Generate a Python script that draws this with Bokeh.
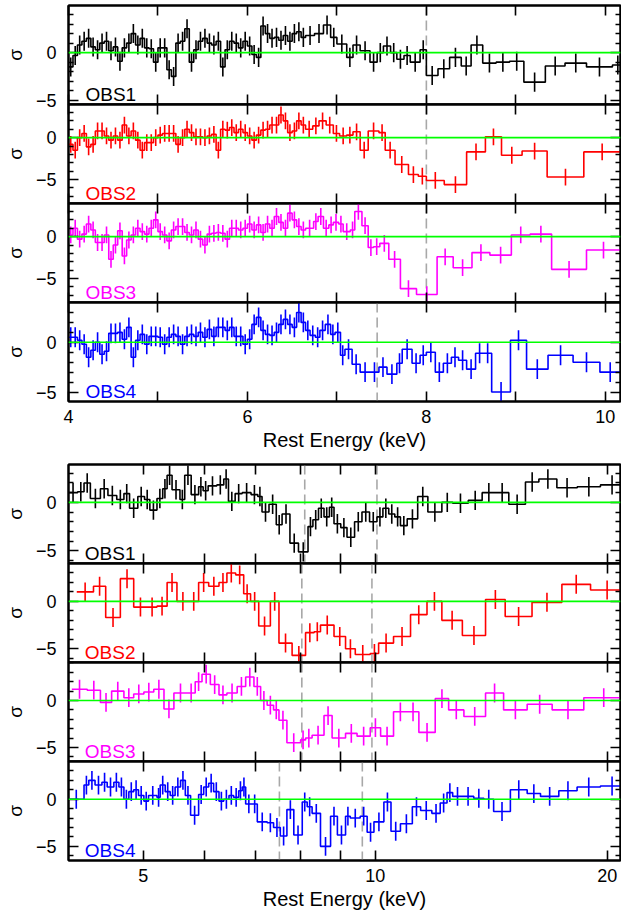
import numpy as np
from bokeh.plotting import figure
from bokeh.layouts import column
from bokeh.models import Range1d, LinearAxis, LogAxis, FixedTicker, Span
from bokeh.core.properties import value
from bokeh.embed import file_html
from bokeh.resources import INLINE

FONT = "Liberation Sans"
SERIES_COLORS = ["#000000", "#ff0000", "#ff00ff", "#0000ff"]
SERIES_NAMES = ["OBS1", "OBS2", "OBS3", "OBS4"]
SIGMA_ERR = 1.0  # residuals are in units of sigma

# ---------------- axis data ----------------
TOP_X_RANGE = (4.0, 10.17)
TOP_X_MAJOR = [4, 6, 8, 10]
TOP_X_MINOR = [5, 7, 9]
BOT_X_RANGE = (4.0, 20.8)
BOT_X_MAJOR = [5, 10, 20]
BOT_X_MINOR = [6, 7, 8, 9]
BOT_X_LABELS = {5: "5", 10: "10", 20: "20"}
Y_MAJOR = [-5, 0]
Y_MINOR = [-7, -6, -4, -3, -2, -1, 1, 2, 3, 4]
Y_LABELS = {-5: "\u22125", 0: "0"}
X_TITLE = "Rest Energy (keV)"
Y_TITLE = "\u03c3"

TOP_Y_RANGES = [(-5.45, 4.95), (-7.85, 3.95), (-7.85, 3.95), (-5.95, 4.0)]
BOT_Y_RANGES = [(-6.3, 3.9), (-6.45, 4.0), (-6.5, 4.05), (-6.5, 4.0)]

# where the OBS name sits (energy of its left edge)
TOP_NAME_X = 4.19
BOT_NAME_X = 4.2

# dashed line energies (keV)
TOP_MARKS = [[8.0], [8.0], [8.0], [7.45]]
BOT_MARKS = [[8.1, 10.05], [8.03, 9.9], [8.03, 9.9], [7.51, 9.62]]

# ---------------- top group (linear energy) ----------------
TOP_FINE_EDGES = [4.00, 4.05, 4.10, 4.15, 4.20, 4.25, 4.30, 4.35, 4.40, 4.45,
                  4.50, 4.55, 4.60, 4.65, 4.70, 4.75, 4.80, 4.85, 4.90, 4.95,
                  5.00, 5.05, 5.10, 5.15, 5.20, 5.25, 5.30, 5.35, 5.40, 5.45,
                  5.50, 5.55, 5.60, 5.65, 5.70, 5.75, 5.80, 5.85, 5.90, 5.95,
                  6.00, 6.05, 6.10, 6.15, 6.20, 6.25, 6.30, 6.35, 6.40, 6.45,
                  6.50, 6.55, 6.60, 6.65]

TOP1_FINE = [-1.5, -0.3, 0.8, 1.2, 1.5, 0.6, 0.3, 1.0, 1.2, 0.2,
             0.6, -0.9, 0.5, 1.0, 2.0, 0.8, 1.5, 0.5, 0.4, -1.0,
             0.5, 0.5, -1.8, -2.5, 1.0, 1.2, 2.5, -1.0, 0.3, 1.2,
             1.5, 1.0, 0.8, 1.2, -1.5, 0.3, 1.2, 1.0, 0.5, 1.2,
             0.7, -0.2, -0.5, 2.8, 2.0, 1.5, 1.6, 1.3, 1.8, 1.2,
             2.0, 2.2, 1.6]
TOP1_COARSE_EDGES = [6.65, 6.75, 6.85, 6.93, 7.00, 7.11, 7.18, 7.26, 7.37, 7.45,
                     7.52, 7.60, 7.67, 7.75, 7.82, 7.93, 8.00, 8.13, 8.26, 8.39,
                     8.50, 8.63, 8.78, 8.93, 9.09, 9.33, 9.55, 9.79, 10.08, 10.20]
TOP1_COARSE = [1.8, 2.0, 2.9, 1.6, 0.9, -0.5, 0.8, 0.2, -1.0, 0.0,
               0.7, 0.0, -0.7, -0.3, -1.0, 0.3, -2.4, -1.7, -0.5, -1.4,
               0.8, -1.1, -1.0, -0.9, -3.1, -1.4, -1.1, -1.5, -1.3]

TOP2_FINE = [-0.8, -1.5, 0.0, 0.5, -1.1, -0.8, 0.8, 0.8, 0.2, -0.3,
             0.2, -0.3, 1.5, 0.2, 0.8, -0.3, -1.5, -0.6, -0.6, 0.0,
             0.3, 0.5, 0.5, 0.5, -0.8, 0.0, 1.0, 0.6, 0.1, 0.1,
             0.0, 0.2, 0.4, -1.5, 1.0, 0.9, 1.2, 0.6, 1.0, 0.6,
             0.2, -0.3, 0.3, 0.9, 1.0, 1.5, 1.5, 2.7, 2.0, 0.6,
             0.8, 2.0, 1.5]
TOP2_COARSE_EDGES = [6.65, 6.73, 6.80, 6.88, 6.96, 7.03, 7.11, 7.18, 7.26, 7.35,
                     7.47, 7.54, 7.65, 7.80, 7.91, 8.00, 8.20, 8.45, 8.66, 8.84,
                     9.07, 9.35, 9.76, 10.17]
TOP2_COARSE = [1.0, 1.4, 2.0, 1.5, 0.5, 0.2, 0.3, 0.7, -1.5, 0.8,
               0.6, -1.5, -3.2, -4.4, -4.6, -5.1, -5.6, -1.7, 0.1, -2.1,
               -1.6, -4.7, -1.7]

TOP3_FINE = [0.2, 1.0, -0.3, 0.3, 1.5, 0.8, -0.7, -0.7, 0.2, -2.7,
             -1.0, 0.7, -2.3, -0.4, 0.2, 1.0, 0.6, 0.3, 1.0, 2.0,
             0.6, 0.2, -0.5, 0.8, 1.2, 1.2, 0.5, 0.2, 0.8, -0.3,
             -1.0, 0.3, 0.4, 0.5, 0.4, -0.3, 1.0, 1.0, 0.8, 1.0,
             1.5, 0.8, 1.4, 0.5, 1.5, 1.0, 2.4, 1.7, 1.0, 2.8,
             2.0, 1.2, 0.8]
TOP3_COARSE_EDGES = [6.65, 6.74, 6.79, 6.85, 6.91, 6.96, 7.02, 7.07, 7.15, 7.20,
                     7.28, 7.35, 7.41, 7.48, 7.58, 7.71, 7.89, 8.12, 8.30, 8.51,
                     8.71, 8.95, 9.16, 9.40, 9.79, 10.17]
TOP3_COARSE = [1.0, 1.8, 2.4, 1.0, 1.4, 1.7, 1.5, 0.6, 0.8, 3.0,
               1.3, -1.3, -1.2, -0.8, -2.7, -6.2, -6.9, -2.4, -3.7, -1.9,
               -2.2, 0.2, 0.3, -3.9, -1.6]

TOP4_FINE = [0.5, 0.5, 0.2, -0.2, -1.5, -0.8, 0.0, -1.2, -0.9, 0.9,
             0.9, 1.0, 0.3, 1.5, -1.5, 0.2, 0.8, -0.2, 0.6, 0.6,
             0.5, -0.2, 0.5, 0.8, 0.6, -0.2, 0.6, 0.8, 0.6, 1.0,
             0.5, 1.3, 0.6, 1.5, 1.5, 1.2, 1.5, 0.6, 0.6, -0.2,
             0.3, 1.8, 2.5, 1.2, 0.8, 0.7, 1.0, 1.8, 2.3, 1.8,
             1.5, 3.0, 2.0]
TOP4_COARSE_EDGES = [6.65, 6.70, 6.76, 6.81, 6.87, 6.93, 6.98, 7.04, 7.09, 7.17,
                     7.26, 7.37, 7.47, 7.56, 7.67, 7.73, 7.84, 7.93, 8.00, 8.10,
                     8.19, 8.28, 8.36, 8.45, 8.55, 8.64, 8.73, 8.94, 9.12, 9.36,
                     9.64, 9.94, 10.17]
TOP4_COARSE = [1.2, 0.7, 0.5, 1.2, 1.8, 0.8, 1.0, -1.3, -0.7, -2.2,
               -3.0, -3.0, -2.5, -3.2, -2.1, -0.7, -2.1, -1.3, -1.0, -3.0,
               -2.1, -1.5, -1.8, -2.7, -1.1, -1.1, -5.0, 0.2, -2.7, -1.3,
               -2.0, -3.0]

# ---------------- bottom group (log energy) ----------------
BOT1_EDGES = [4.00, 4.11, 4.19, 4.27, 4.40, 4.50, 4.62, 4.72, 4.80, 4.92,
              5.02, 5.10, 5.21, 5.30, 5.37, 5.45, 5.58, 5.66, 5.77, 5.90,
              5.98, 6.07, 6.23, 6.36, 6.45, 6.58, 6.72, 6.90, 7.04, 7.13,
              7.28, 7.44, 7.57, 7.75, 7.95, 8.18, 8.30, 8.44, 8.58, 8.72,
              8.84, 9.02, 9.19, 9.40, 9.61, 9.83, 10.05, 10.23, 10.41, 10.60,
              10.78, 11.00, 11.35, 11.70, 12.20, 12.60, 13.20, 13.76, 14.32, 14.90,
              15.66, 16.30, 17.20, 18.28, 19.59, 21.0]
BOT1_VALS = [1.0, 1.1, 2.0, 0.4, 1.4, 0.7, 0.3, 0.9, -0.6, 0.6,
             0.3, -0.8, 0.4, 1.4, 2.8, 1.3, 0.3, 2.8, 0.8, 1.6,
             1.2, 1.7, 1.8, 2.4, 0.1, 0.9, 1.0, 0.8, 0.6, -1.0,
             -0.2, -2.3, -1.2, -4.2, -5.1, -2.5, -1.8, -0.6, -1.5, -0.5,
             -2.2, -2.6, -3.6, -2.0, -1.0, -2.0, -1.5, -0.6, -1.2, -1.5,
             -2.4, -1.7, 0.6, -1.0, 0.0, -0.1, 0.2, 1.0, 1.0, -0.2,
             2.1, 2.4, 1.5, 1.6, 1.8]

BOT2_EDGES = [4.10, 4.31, 4.47, 4.67, 4.86, 5.06, 5.21, 5.37, 5.53, 5.73,
              5.90, 6.08, 6.27, 6.42, 6.59, 6.75, 6.89, 7.06, 7.31, 7.50,
              7.80, 8.12, 8.33, 8.49, 8.84, 9.15, 9.42, 9.85, 10.10, 10.56,
              11.11, 11.67, 12.20, 12.97, 13.90, 14.74, 15.97, 17.46, 19.02, 21.0]
BOT2_VALS = [1.0, 1.6, -1.7, 2.4, -0.6, -0.6, -0.5, 2.0, 0.0, 0.0,
             2.0, 1.6, 2.0, 3.0, 2.8, 0.8, 0.0, -2.6, 0.0, -4.4,
             -5.7, -3.3, -3.2, -2.5, -3.7, -5.0, -5.6, -5.5, -4.4, -3.7,
             -1.4, 0.0, -2.0, -3.6, 0.2, -1.6, -0.1, 1.8, 1.2]

BOT3_EDGES = [4.04, 4.23, 4.40, 4.55, 4.72, 4.86, 5.01, 5.16, 5.32, 5.48,
              5.70, 5.84, 5.96, 6.11, 6.27, 6.42, 6.62, 6.79, 6.96, 7.10,
              7.24, 7.38, 7.50, 7.68, 8.00, 8.12, 8.28, 8.58, 8.79, 9.15,
              9.47, 9.85, 10.16, 10.56, 11.00, 11.39, 11.96, 12.45, 13.03, 13.90,
              14.67, 15.74, 16.96, 18.64, 21.0]
BOT3_VALS = [1.2, 1.1, -0.2, 1.0, 0.3, 0.7, 0.9, 1.2, -0.9, 0.8,
             0.8, 2.0, 2.8, 1.7, 0.6, 0.8, 1.5, 2.5, 1.5, 0.0,
             -0.5, -1.0, -2.1, -4.5, -4.2, -4.0, -3.7, -1.6, -4.0, -3.5,
             -3.8, -2.9, -3.8, -1.2, -1.2, -3.4, 0.2, -1.0, -1.7, 0.8,
             -1.0, -0.4, -1.0, 0.3]

BOT4_EDGES = [4.00, 4.19, 4.25, 4.33, 4.42, 4.49, 4.58, 4.65, 4.72, 4.79,
              4.86, 4.93, 5.01, 5.08, 5.21, 5.26, 5.34, 5.42, 5.50, 5.59,
              5.67, 5.76, 5.90, 5.99, 6.08, 6.17, 6.27, 6.36, 6.46, 6.55,
              6.65, 6.72, 6.79, 6.92, 7.03, 7.24, 7.38, 7.53, 7.68, 7.84,
              8.04, 8.16, 8.28, 8.49, 8.75, 8.93, 9.15, 9.28, 9.56, 9.76,
              9.96, 10.26, 10.48, 10.78, 11.17, 11.45, 11.84, 12.14, 12.39, 12.60,
              12.97, 13.42, 13.83, 14.24, 14.97, 15.74, 16.38, 17.30, 18.27, 19.59,
              21.0]
BOT4_VALS = [0.0, 1.5, 2.0, 1.5, 1.8, 1.3, 1.8, 1.3, 0.0, 0.8,
             1.0, 0.4, -0.2, 0.4, 0.2, 1.5, 0.8, 0.4, 1.3, 2.0,
             0.4, -1.7, 0.5, 1.3, 1.7, 0.8, -0.2, 0.0, 0.4, 0.2,
             0.9, 1.3, -0.5, -0.5, -2.4, -2.5, -3.0, -3.9, -1.1, -3.8,
             -0.3, -0.8, -1.5, -5.0, -1.8, -3.8, -1.8, -2.0, -1.8, -3.5,
             -2.4, -0.3, -3.4, -2.6, -0.8, -1.2, -1.5, -0.4, 0.7, 0.3,
             0.3, 0.1, 0.0, -1.3, 1.0, 0.6, 0.3, 0.9, 1.3, 1.4]

TOP_SERIES = [
    (TOP_FINE_EDGES + TOP1_COARSE_EDGES[1:], TOP1_FINE + TOP1_COARSE),
    (TOP_FINE_EDGES + TOP2_COARSE_EDGES[1:], TOP2_FINE + TOP2_COARSE),
    (TOP_FINE_EDGES + TOP3_COARSE_EDGES[1:], TOP3_FINE + TOP3_COARSE),
    (TOP_FINE_EDGES + TOP4_COARSE_EDGES[1:], TOP4_FINE + TOP4_COARSE),
]
BOT_SERIES = [(BOT1_EDGES, BOT1_VALS), (BOT2_EDGES, BOT2_VALS),
              (BOT3_EDGES, BOT3_VALS), (BOT4_EDGES, BOT4_VALS)]

# ---------------- layout constants ----------------
FRAME_W = 552
FRAME_H = 99
BORDER_L = 68
BORDER_R = 1
PAD = 8            # spare border above/below inner panels (overlapped)
NAME_LIFT_PX = 10  # vertical centre of OBS name above the panel bottom
LW = 1.6


def hide_labels(ax):
    ax.major_label_text_color = None
    ax.major_label_standoff = 0


def style_common(ax):
    ax.axis_line_width = 2
    ax.axis_line_color = "black"
    ax.major_tick_out = 0
    ax.minor_tick_out = 0
    ax.major_tick_line_width = 1.6
    ax.minor_tick_line_width = 1.6
    ax.major_tick_line_color = "black"
    ax.minor_tick_line_color = "black"
    ax.major_label_text_font = FONT
    ax.major_label_text_font_size = "18px"
    ax.major_label_text_color = "black"


def style_x(ax, show):
    style_common(ax)
    ax.major_tick_in = 10
    ax.minor_tick_in = 10
    if show:
        ax.major_label_standoff = 8
        ax.axis_label = X_TITLE
        ax.axis_label_text_font = FONT
        ax.axis_label_text_font_size = "20px"
        ax.axis_label_text_font_style = "normal"
        ax.axis_label_text_color = "black"
        ax.axis_label_standoff = 3
    else:
        hide_labels(ax)


def style_y(ax, show):
    style_common(ax)
    ax.major_tick_in = 10
    ax.minor_tick_in = 5
    if show:
        ax.major_label_standoff = 12
        ax.major_label_overrides = Y_LABELS
        ax.axis_label = Y_TITLE
        ax.axis_label_text_font = FONT
        ax.axis_label_text_font_size = "19px"
        ax.axis_label_text_font_style = "normal"
        ax.axis_label_text_color = "black"
        ax.axis_label_standoff = 7
    else:
        hide_labels(ax)


def make_panel(xr, log, xmajor, xminor, yr, edges, vals, color, name, name_x, marks,
               top_border, bottom_border, show_xlabels, overlap):
    kw = {}
    if overlap:
        kw["styles"] = {"margin-top": "-%dpx" % (2 * PAD)}
    p = figure(output_backend="svg", toolbar_location=None,
               frame_width=FRAME_W, frame_height=FRAME_H,
               x_range=xr, y_range=Range1d(*yr),
               x_axis_type="log" if log else "linear",
               min_border_left=BORDER_L, min_border_right=BORDER_R,
               min_border_top=top_border, min_border_bottom=bottom_border,
               background_fill_color="white", border_fill_alpha=0,
               outline_line_color="black", outline_line_width=2, **kw)
    p.xgrid.visible = False
    p.ygrid.visible = False

    for m in marks:
        p.add_layout(Span(location=m, dimension="height", line_color="#a8a8a8",
                          line_width=1.6, line_dash="10 5", level="underlay"))

    # histogram steps from bin edges
    xs, ys = [], []
    for i, v in enumerate(vals):
        xs += [edges[i], edges[i + 1]]
        ys += [v, v]
    p.line(xs, ys, line_color=color, line_width=LW)

    lo = np.array(edges[:-1])
    hi = np.array(edges[1:])
    centers = np.sqrt(lo * hi) if log else 0.5 * (lo + hi)
    v = np.array(vals)
    p.segment(x0=centers, y0=v - SIGMA_ERR, x1=centers, y1=v + SIGMA_ERR,
              line_color=color, line_width=LW)

    p.add_layout(Span(location=0, dimension="width", line_color="#00ff00",
                      line_width=1.6))

    name_y = yr[0] + (yr[1] - yr[0]) * NAME_LIFT_PX / FRAME_H
    p.text(x=[name_x], y=[name_y], text=[name], text_font=value(FONT),
           text_font_size="19px", text_color=color,
           text_baseline="middle", text_align="left")

    yminor = [t for t in Y_MINOR if yr[0] < t < yr[1]]

    bx = p.xaxis[0]
    bx.ticker = FixedTicker(ticks=xmajor, minor_ticks=xminor)
    if log:
        bx.major_label_overrides = BOT_X_LABELS
    style_x(bx, show_xlabels)
    ax_cls = LogAxis if log else LinearAxis
    top_ax = ax_cls(ticker=FixedTicker(ticks=xmajor, minor_ticks=xminor))
    style_x(top_ax, False)
    p.add_layout(top_ax, "above")

    ly = p.yaxis[0]
    ly.ticker = FixedTicker(ticks=Y_MAJOR, minor_ticks=yminor)
    style_y(ly, True)
    ry = LinearAxis(ticker=FixedTicker(ticks=Y_MAJOR, minor_ticks=yminor))
    style_y(ry, False)
    p.add_layout(ry, "right")
    return p


panels = []
top_xr = Range1d(*TOP_X_RANGE)
for i in range(4):
    e, v = TOP_SERIES[i]
    tb = 5 if i == 0 else PAD
    bb = 62 if i == 3 else PAD
    panels.append(make_panel(top_xr, False, TOP_X_MAJOR, TOP_X_MINOR, TOP_Y_RANGES[i],
                             e, v, SERIES_COLORS[i], SERIES_NAMES[i], TOP_NAME_X,
                             TOP_MARKS[i], tb, bb, i == 3, i > 0))
bot_xr = Range1d(*BOT_X_RANGE)
for i in range(4):
    e, v = BOT_SERIES[i]
    tb = 1 if i == 0 else PAD
    bb = 52 if i == 3 else PAD
    panels.append(make_panel(bot_xr, True, BOT_X_MAJOR, BOT_X_MINOR, BOT_Y_RANGES[i],
                             e, v, SERIES_COLORS[i], SERIES_NAMES[i], BOT_NAME_X,
                             BOT_MARKS[i], tb, bb, i == 3, i > 0))

layout = column(*panels, spacing=0)
open("out.html", "w", encoding="utf-8").write(file_html(layout, INLINE, title="residuals"))
